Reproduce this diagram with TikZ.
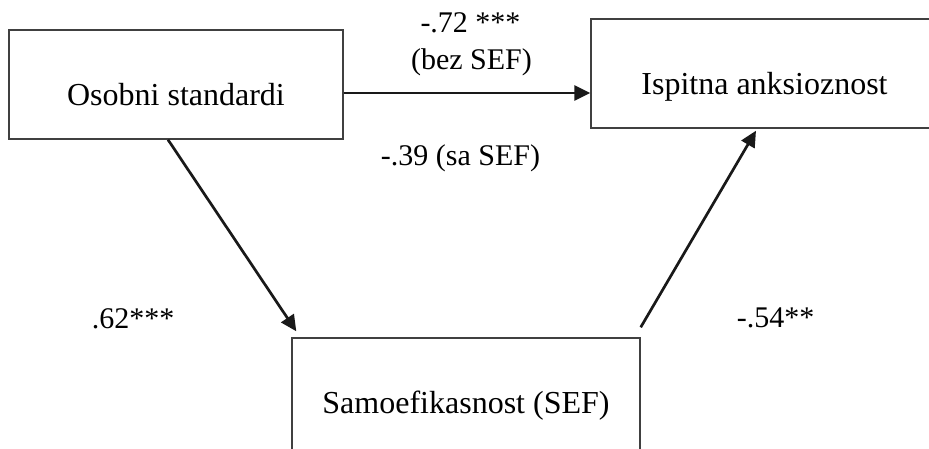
\documentclass[tikz,border=0pt]{standalone}
\usepackage{fontspec}
\setmainfont{Liberation Serif}
\usetikzlibrary{arrows.meta}

\begin{document}
\begin{tikzpicture}[x=1pt,y=-1pt,
 box/.style={draw=black!75,line width=1.4pt,minimum width=#1,minimum height=109pt,inner sep=0pt,
  text height=41pt,text depth=0pt,font=\fontsize{32}{38}\selectfont},
 lbl/.style={anchor=base,inner sep=0pt,font=\fontsize{30}{36}\selectfont},
 arr/.style={-{Triangle[length=16pt,width=15pt]},line width=2.7pt,black!90}]
\useasboundingbox (0,0) rectangle (929,448);
\clip (0,0) rectangle (929,448);
\node[box=334pt] (osobni) at (176,84.5) {Osobni standardi};
\node[box=347pt] (ispit) at (764.5,73.5) {Ispitna anksioznost};
\node[box=348pt,minimum height=116pt,text height=35pt] (sef) at (466,396) {Samoefikasnost (SEF)};
\draw[arr] ([yshift=-8.5pt]osobni.east) -- ([yshift=-19.5pt]ispit.west);
\draw[arr] ([xshift=-8pt]osobni.south) -- ([xshift=5pt,yshift=6pt]sef.north west);
\draw[arr] ([yshift=10pt]sef.north east) -- ([xshift=-8.5pt,yshift=-2pt]ispit.south);
\node[lbl] (l72) at (470.5,32) {-.72 ***};
\node[lbl] (lbez) at (471.5,69) {(bez SEF)};
\node[lbl] (l39) at (460.5,165) {-.39 (sa SEF)};
\node[lbl] (l62) at (133,328) {.62***};
\node[lbl] (l54) at (775.5,327) {-.54**};
\end{tikzpicture}
\end{document}
